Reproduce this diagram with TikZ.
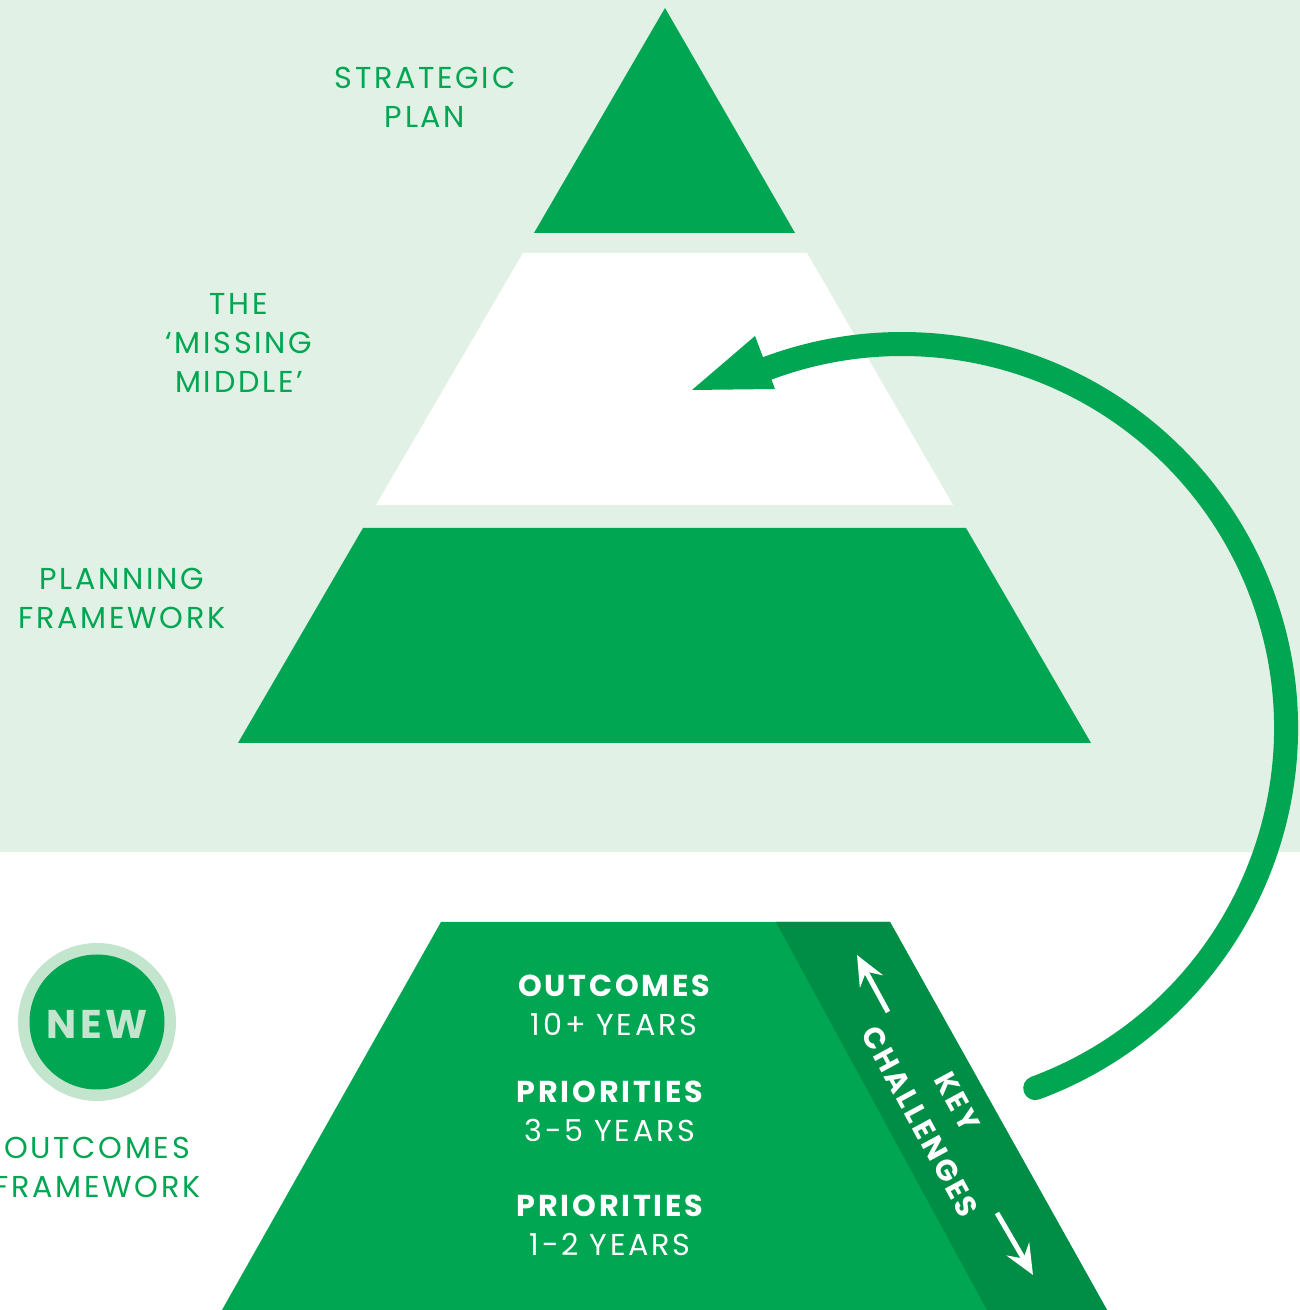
\documentclass[tikz,border=0pt]{standalone}
\usepackage{fontspec}
\setmainfont{Poppins}[LetterSpace=9]
\usetikzlibrary{arrows.meta}
\definecolor{brand}{HTML}{00A651}
\definecolor{branddark}{HTML}{008D45}
\definecolor{wash}{HTML}{E1F1E6}
\definecolor{ring}{HTML}{C3E4CD}

\begin{document}
\begin{tikzpicture}[
    lbl/.style={align=center,text=brand,font=\fontsize{8.6}{11.1}\selectfont,inner sep=0pt},
    inlbl/.style={lbl,text=white},
    kclbl/.style={inlbl,font=\bfseries\fontsize{8.4}{11}\selectfont,rotate=-61.5},
    kc/.style={-{Stealth[length=3mm,width=2.6mm,inset=1.1mm]},white,line width=1.4pt},
    loop/.style={brand,line width=0.24cm},
]
\useasboundingbox (0,0) rectangle (13,13.1);
\fill[wash] (0,4.58) rectangle (13,13.1);

% current planning pyramid
\fill[brand] (6.65,13.02) -- (7.95,10.77) -- (5.34,10.77) -- cycle;
\fill[white] (5.23,10.57) -- (8.07,10.57) -- (9.53,8.05) -- (3.76,8.05) -- cycle;
\fill[brand] (3.63,7.82) -- (9.66,7.82) -- (10.91,5.67) -- (2.38,5.67) -- cycle;

\node[lbl] (strat) at (4.25,12.125) {STRATEGIC\\PLAN};
\node[lbl] (missing) at (2.39,9.67) {THE\\‘MISSING\\MIDDLE’};
\node[lbl] (plan) at (1.22,7.115) {PLANNING\\FRAMEWORK};

% outcomes framework
\fill[brand] (4.41,3.88) -- (8.90,3.88) -- (11.07,0) -- (2.22,0) -- cycle;
\fill[branddark] (7.76,3.88) -- (8.90,3.88) -- (11.07,0) -- (9.87,0) -- cycle;

\node[inlbl] (out) at (6.14,3.05) {{\bfseries OUTCOMES}\\10+ YEARS};
\node[inlbl] (mid) at (6.10,1.99) {{\bfseries PRIORITIES}\\3-5 YEARS};
\node[inlbl] (near) at (6.10,0.85) {{\bfseries PRIORITIES}\\1-2 YEARS};

\node[kclbl] (key) at (9.57,2.085) {KEY};
\node[kclbl] (chal) at (9.20,1.885) {CHALLENGES};
\coordinate (kcup0) at (8.88,2.98);
\coordinate (kcup1) at (8.57,3.55);
\coordinate (kcdn0) at (9.97,0.97);
\coordinate (kcdn1) at (10.33,0.35);
\draw[kc] (kcup0) -- (kcup1);
\draw[kc] (kcdn0) -- (kcdn1);

\fill[ring] (0.97,2.88) circle[radius=0.79];
\fill[brand] (0.97,2.88) circle[radius=0.675];
\node[lbl,text=ring,font=\bfseries\fontsize{11.4}{13}\selectfont] (new) at (0.97,2.86) {NEW};
\node[lbl] (ofw) at (0.97,1.425) {OUTCOMES\\FRAMEWORK};

% loop back up to the missing middle
\coordinate (hub) at (9.02,5.82);
\coordinate (tip) at (6.92,9.20);
\draw[loop,line cap=round] (hub) ++(-69.7:3.84) arc[start angle=-69.7,end angle=112,radius=3.84];
\fill[brand] (tip) -- (7.55,9.74) -- (7.75,9.21) -- cycle;
\end{tikzpicture}
\end{document}
